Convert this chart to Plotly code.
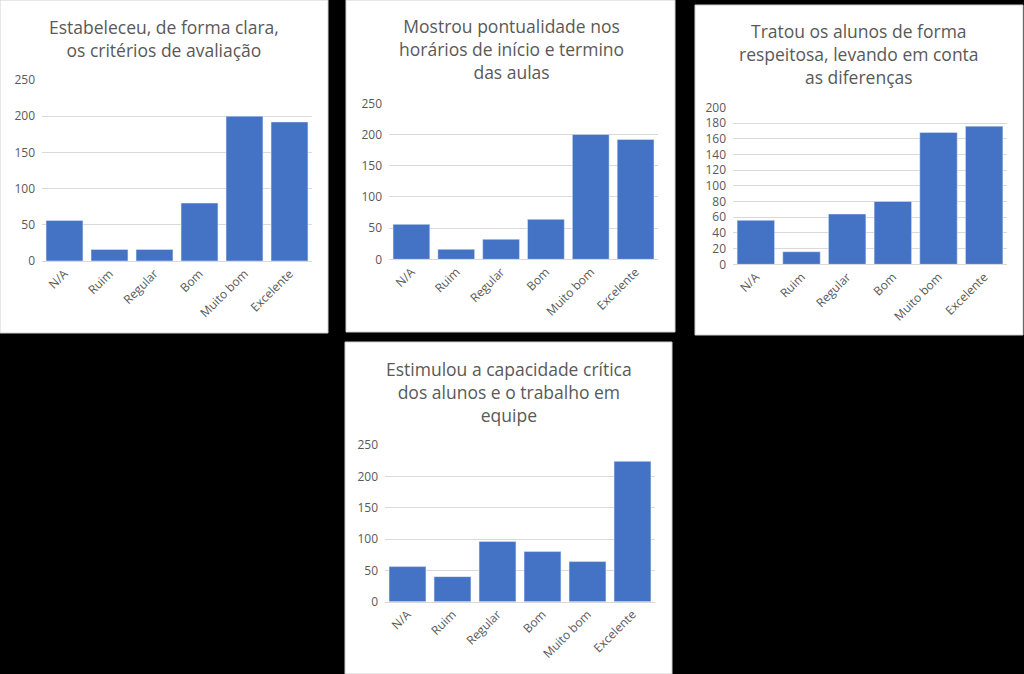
import plotly.graph_objects as go

categories = ["N/A", "Ruim", "Regular", "Bom", "Muito bom", "Excelente"]

titles = [
    "Estabeleceu, de forma clara,<br>os critérios de avaliação",
    "Mostrou pontualidade nos<br>horários de início e termino<br>das aulas",
    "Tratou os alunos de forma<br>respeitosa, levando em conta<br>as diferenças",
    "Estimulou a capacidade crítica<br>dos alunos e o trabalho em<br>equipe",
]

values_criterios = [56, 16, 16, 80, 200, 192]
values_pontualidade = [56, 16, 32, 64, 200, 192]
values_respeito = [56, 16, 64, 80, 168, 176]
values_capacidade = [56, 40, 96, 80, 64, 224]

series = [values_criterios, values_pontualidade, values_respeito, values_capacidade]
y_max = [250, 250, 200, 250]
y_dtick = [50, 50, 20, 50]

W, H = 1024, 674
# panel boxes (x0, y0, x1, y1) in pixels from top-left
panels = [(0, 0, 328, 333), (346, 0, 675, 332), (695, 5, 1023, 335), (345, 342, 672, 674)]
# plot areas (x0, ytop, x1, ybottom) in pixels
plots = [(42, 80, 312, 261), (389, 103.3, 658, 259.3), (733, 107.3, 1007, 264.3), (385, 445, 655, 601.7)]
# title block centres
title_pos = [(164, 39), (511, 49), (859, 54), (509, 392)]

BAR = "#4472C4"
TXT = "#595959"
GRID = "#d9d9d9"
FONT = "Open Sans"

fig = go.Figure()
shapes = []
annotations = []
for i in range(4):
    sfx = "" if i == 0 else str(i + 1)
    fig.add_trace(go.Bar(x=categories, y=series[i], marker_color=BAR,
                         xaxis="x" + sfx, yaxis="y" + sfx, showlegend=False))
    x0, yt, x1, yb = plots[i]
    fig.layout["xaxis" + sfx] = dict(
        domain=[x0 / W, x1 / W], anchor="y" + sfx, tickangle=-45,
        tickfont=dict(family=FONT, size=12, color=TXT), showgrid=False,
        showline=True, linecolor=GRID, linewidth=1, ticks="", fixedrange=True,
        automargin=False)
    fig.layout["yaxis" + sfx] = dict(
        domain=[1 - yb / H, 1 - yt / H], anchor="x" + sfx, range=[0, y_max[i]],
        dtick=y_dtick[i], tick0=0, showgrid=True, gridcolor=GRID, gridwidth=1,
        zeroline=False, tickfont=dict(family=FONT, size=12, color=TXT),
        ticklabelstandoff=6, ticks="", fixedrange=True, automargin=False)
    px0, py0, px1, py1 = panels[i]
    shapes.append(dict(type="rect", xref="paper", yref="paper",
                       x0=px0 / W, x1=px1 / W, y0=1 - py1 / H, y1=1 - py0 / H,
                       fillcolor="white", line=dict(color="#d0d0d0", width=1), layer="below"))
    tx, ty = title_pos[i]
    annotations.append(dict(text=titles[i], xref="paper", yref="paper",
                            x=tx / W, y=1 - ty / H, xanchor="center", yanchor="middle",
                            showarrow=False, align="center",
                            font=dict(family=FONT, size=17.5, color=TXT)))

fig.update_layout(
    width=W, height=H, margin=dict(l=0, r=0, t=0, b=0, autoexpand=False),
    paper_bgcolor="black", plot_bgcolor="white",
    bargap=0.18, shapes=shapes, annotations=annotations,
)
fig.write_html("out.html", config={"displayModeBar": False})
